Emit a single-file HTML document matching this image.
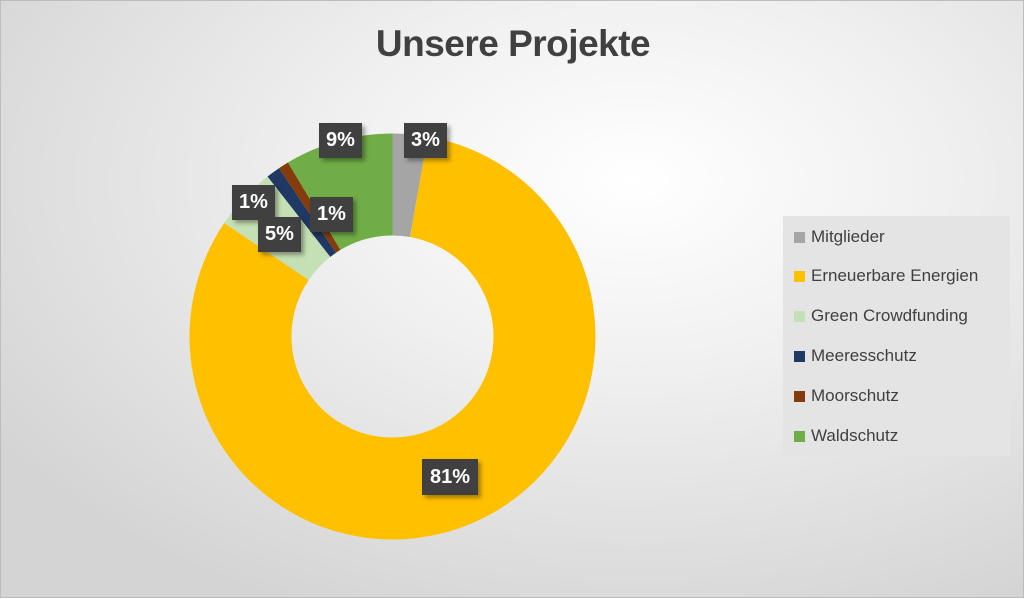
<!DOCTYPE html>
<html><head><meta charset="utf-8"><style>
html,body{margin:0;padding:0}
body{width:1024px;height:598px;overflow:hidden;font-family:"Liberation Sans",sans-serif}
#c{position:relative;width:1022px;height:596px;border:1px solid #bdbdbd;background:radial-gradient(ellipse 75% 80% at 62% 30%,#ffffff 0%,#f0f0f0 40%,#d4d4d4 100%)}
.t{position:absolute;left:0;width:1024px;top:22px;text-align:center;font-size:37px;font-weight:bold;color:#404040;letter-spacing:-0.5px}
.lb{position:absolute;background:#404040;color:#fff;font-weight:bold;font-size:20px;text-align:center;box-shadow:3px 3px 4px rgba(0,0,0,.35)}
.lg{position:absolute;left:782px;top:215px;width:227px;height:240px;background:#e4e4e4}
.li{position:absolute;left:11px;font-size:17px;color:#404040;white-space:nowrap}
.li span{display:inline-block;width:11px;height:11px;margin-right:6px;vertical-align:-1px}
</style></head><body><div id="c">
<div class="t">Unsere Projekte</div>
<svg id="s" width="1024" height="598" style="position:absolute;left:0;top:0"></svg>
<div class="lb" style="left:318px;top:122px;width:43px;height:35px;line-height:35px">9%</div>
<div class="lb" style="left:403px;top:122px;width:43px;height:35px;line-height:35px">3%</div>
<div class="lb" style="left:231px;top:184px;width:43px;height:35px;line-height:35px">1%</div>
<div class="lb" style="left:257px;top:216px;width:43px;height:35px;line-height:35px">5%</div>
<div class="lb" style="left:309px;top:196px;width:43px;height:35px;line-height:35px">1%</div>
<div class="lb" style="left:421px;top:458px;width:56px;height:36px;line-height:36px">81%</div>
<div class="lg">
<div class="li" style="top:11px"><span style="background:#a5a5a5"></span>Mitglieder</div>
<div class="li" style="top:50px"><span style="background:#ffc000"></span>Erneuerbare Energien</div>
<div class="li" style="top:90px"><span style="background:#c5e0b4"></span>Green Crowdfunding</div>
<div class="li" style="top:130px"><span style="background:#1f3864"></span>Meeresschutz</div>
<div class="li" style="top:170px"><span style="background:#843c0c"></span>Moorschutz</div>
<div class="li" style="top:210px"><span style="background:#70ad47"></span>Waldschutz</div>
</div>
</div>
<script>
var cx=391.5,cy=335.5,R=203,r=101;
var seg=[[0,10,"#a5a5a5"],[10,304,"#ffc000"],[304,322,"#c5e0b4"],[322,326,"#1f3864"],[326,329,"#843c0c"],[329,360,"#70ad47"]];
function p(a,rr){a=a*Math.PI/180;return [cx+rr*Math.sin(a),cy-rr*Math.cos(a)];}
var h="";
seg.forEach(function(s){var a=p(s[0],R),b=p(s[1],R),c=p(s[1],r),d=p(s[0],r),l=(s[1]-s[0])>180?1:0;
h+='<path fill="'+s[2]+'" d="M'+a+' A'+R+' '+R+' 0 '+l+' 1 '+b+' L'+c+' A'+r+' '+r+' 0 '+l+' 0 '+d+'Z"/>';});
document.getElementById("s").innerHTML=h;
</script>
</body></html>
